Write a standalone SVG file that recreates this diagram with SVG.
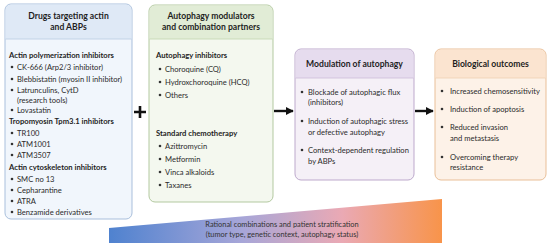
<svg xmlns="http://www.w3.org/2000/svg" width="550" height="247" viewBox="0 0 550 247">
<defs>
<style>
text{font-family:Lato,"Open Sans","Liberation Sans",sans-serif;fill:#2b2b2b;font-size:7.6px}
.h{font-weight:bold;font-size:8.6px;text-anchor:middle;fill:#1e1e1e}
.s{font-weight:bold;font-size:7.65px;fill:#1e1e1e}
.w{font-size:7.4px;text-anchor:middle;fill:#333}
.b{fill:#333}
.ar{stroke:#111;stroke-width:2.4;fill:none}
</style>
<linearGradient id="wg" x1="0" y1="0" x2="1" y2="0">
<stop offset="0" stop-color="#4f82cf"/>
<stop offset="0.4" stop-color="#a7a6d8"/>
<stop offset="0.7" stop-color="#eaa9b4"/>
<stop offset="1" stop-color="#f8944a"/>
</linearGradient>
<marker id="ah" viewBox="0 0 10 10" refX="9" refY="5" markerWidth="3.3" markerHeight="3.3" orient="auto" markerUnits="strokeWidth">
<path d="M0,0 L10,5 L0,10 z" fill="#111"/>
</marker>
</defs>
<rect width="550" height="247" fill="#ffffff"/>

<g id="wedge">
<polygon points="109,228 442,199 442,243 109,243" fill="url(#wg)"/>
<text class="w" x="282" y="227">Rational combinations and patient stratification</text>
<text class="w" x="282" y="237">(tumor type, genetic context, autophagy status)</text>
</g>

<g id="node-drugs">
<rect x="5" y="4" width="127" height="215" rx="6" fill="#f1f6fc" stroke="#a9bfdc" stroke-width="1"/>
<path d="M5.5,39 V10 a5.5,5.5 0 0 1 5.5,-5.5 H126 a5.5,5.5 0 0 1 5.5,5.5 V39 z" fill="#dfe9f6"/>
<line x1="5.5" y1="39" x2="131.5" y2="39" stroke="#b9cbe3" stroke-width="0.8"/>
<text class="h" x="68.5" y="19">Drugs targeting actin</text>
<text class="h" x="68.5" y="30">and ABPs</text>
<text class="s" x="9" y="58">Actin polymerization inhibitors</text>
<circle class="b" cx="12" cy="67" r="1.3"/><text x="17" y="70">CK-666 (Arp2/3 inhibitor)</text>
<circle class="b" cx="12" cy="79" r="1.3"/><text x="17" y="82">Blebbistatin (myosin II inhibitor)</text>
<circle class="b" cx="12" cy="90" r="1.3"/><text x="17" y="93">Latrunculins, CytD</text>
<text x="17" y="103">(research tools)</text>
<circle class="b" cx="12" cy="110" r="1.3"/><text x="17" y="113">Lovastatin</text>
<text class="s" x="9" y="124">Tropomyosin Tpm3.1 inhibitors</text>
<circle class="b" cx="12" cy="133" r="1.3"/><text x="17" y="136">TR100</text>
<circle class="b" cx="12" cy="144" r="1.3"/><text x="17" y="147">ATM1001</text>
<circle class="b" cx="12" cy="155" r="1.3"/><text x="17" y="158">ATM3507</text>
<text class="s" x="9" y="170">Actin cytoskeleton inhibitors</text>
<circle class="b" cx="12" cy="179" r="1.3"/><text x="17" y="182">SMC no 13</text>
<circle class="b" cx="12" cy="190" r="1.3"/><text x="17" y="193">Cepharantine</text>
<circle class="b" cx="12" cy="201" r="1.3"/><text x="17" y="204">ATRA</text>
<circle class="b" cx="12" cy="212" r="1.3"/><text x="17" y="215">Benzamide derivatives</text>
</g>

<g id="node-autophagy-modulators">
<rect x="149" y="5" width="124" height="197" rx="6" fill="#f4f8ef" stroke="#b3c9a0" stroke-width="1"/>
<path d="M149.5,39 V11 a5.5,5.5 0 0 1 5.5,-5.5 H267 a5.5,5.5 0 0 1 5.5,5.5 V39 z" fill="#e1ecd6"/>
<line x1="149.5" y1="39" x2="272.5" y2="39" stroke="#c2d5b0" stroke-width="0.8"/>
<text class="h" x="211" y="19">Autophagy modulators</text>
<text class="h" x="211" y="30">and combination partners</text>
<text class="s" x="156" y="58">Autophagy inhibitors</text>
<circle class="b" cx="160" cy="69" r="1.3"/><text x="165" y="72">Choroquine (CQ)</text>
<circle class="b" cx="160" cy="82" r="1.3"/><text x="165" y="85">Hydroxchoroquine (HCQ)</text>
<circle class="b" cx="160" cy="95" r="1.3"/><text x="165" y="98">Others</text>
<text class="s" x="156" y="136">Standard chemotherapy</text>
<circle class="b" cx="160" cy="146" r="1.3"/><text x="165" y="149">Azittromycin</text>
<circle class="b" cx="160" cy="159" r="1.3"/><text x="165" y="162">Metformin</text>
<circle class="b" cx="160" cy="172" r="1.3"/><text x="165" y="175">Vinca alkaloids</text>
<circle class="b" cx="160" cy="185" r="1.3"/><text x="165" y="188">Taxanes</text>
</g>

<g id="node-modulation">
<rect x="295" y="49" width="119" height="131" rx="6" fill="#f5f0f7" stroke="#bda9cc" stroke-width="1"/>
<path d="M295.5,78 V55 a5.5,5.5 0 0 1 5.5,-5.5 H408 a5.5,5.5 0 0 1 5.5,5.5 V78 z" fill="#e6dcee"/>
<line x1="295.5" y1="78" x2="413.5" y2="78" stroke="#cbbbd8" stroke-width="0.8"/>
<text class="h" x="354.5" y="67">Modulation of autophagy</text>
<circle class="b" cx="302" cy="92" r="1.3"/><text x="308" y="95">Blockade of autophagic flux</text>
<text x="308" y="105">(inhibitors)</text>
<circle class="b" cx="302" cy="121" r="1.3"/><text x="308" y="124">Induction of autophagic stress</text>
<text x="308" y="135">or defective autophagy</text>
<circle class="b" cx="302" cy="150" r="1.3"/><text x="308" y="153">Context-dependent regulation</text>
<text x="308" y="164">by ABPs</text>
</g>

<g id="node-outcomes">
<rect x="435" y="49" width="111" height="131" rx="6" fill="#fdf2e8" stroke="#e9bf98" stroke-width="1"/>
<path d="M435.5,78 V55 a5.5,5.5 0 0 1 5.5,-5.5 H540 a5.5,5.5 0 0 1 5.5,5.5 V78 z" fill="#fbe4d0"/>
<line x1="435.5" y1="78" x2="545.5" y2="78" stroke="#efcfb2" stroke-width="0.8"/>
<text class="h" x="490.5" y="67">Biological outcomes</text>
<circle class="b" cx="442" cy="91" r="1.3"/><text x="450" y="94">Increased chemosensitivity</text>
<circle class="b" cx="442" cy="109" r="1.3"/><text x="450" y="112">Induction of apoptosis</text>
<circle class="b" cx="442" cy="127" r="1.3"/><text x="450" y="130">Reduced invasion</text>
<text x="450" y="141">and metastasis</text>
<circle class="b" cx="442" cy="157" r="1.3"/><text x="450" y="160">Overcoming therapy</text>
<text x="450" y="170">resistance</text>
</g>

<g id="connectors">
<path d="M134,112 H146 M140,106 V118" stroke="#111" stroke-width="2.6" fill="none"/>
<line class="ar" x1="274" y1="111" x2="293" y2="111" marker-end="url(#ah)"/>
<line class="ar" x1="415" y1="111" x2="433" y2="111" marker-end="url(#ah)"/>
</g>
</svg>
